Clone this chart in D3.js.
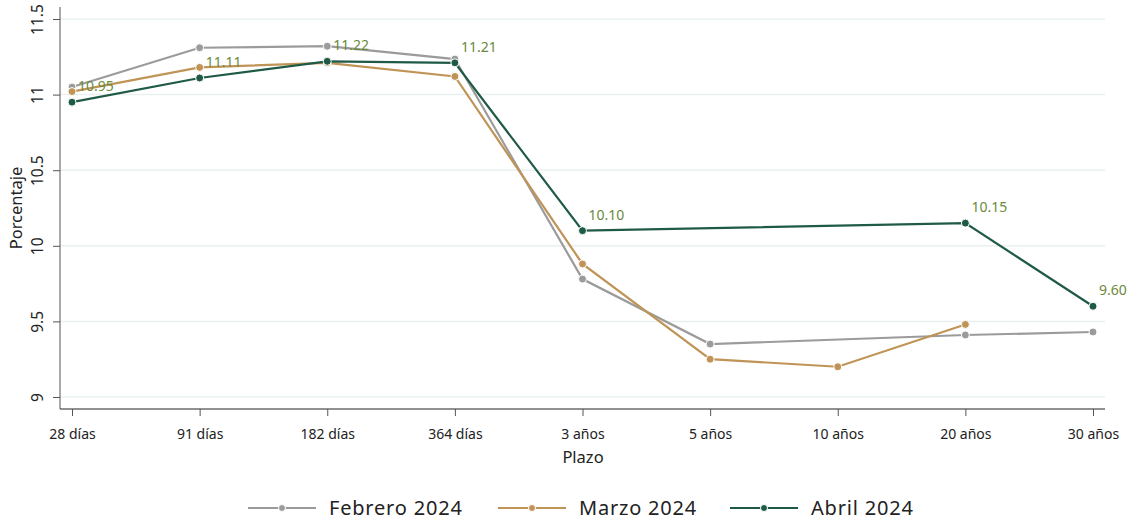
<!DOCTYPE html>
<html><head><meta charset="utf-8">
<script src="https://cdn.jsdelivr.net/npm/d3@7"></script>
<style>body{margin:0;background:#fff}svg{display:block}text{font-family:"Noto Sans",sans-serif}</style>
</head><body><svg id="c" width="1134" height="524"></svg>
<script>
const categories = ["28 días","91 días","182 días","364 días","3 años","5 años","10 años","20 años","30 años"];
const febrero = [11.05, 11.31, 11.32, 11.235, 9.78, 9.35, null, 9.41, 9.43];
const marzo   = [11.02, 11.18, 11.21, 11.12, 9.88, 9.25, 9.20, 9.48, null];
const abril   = [10.95, 11.11, 11.22, 11.21, 10.10, null, null, 10.15, 9.60];
const abrilLabels = ["10.95","11.11","11.22","11.21","10.10",null,null,"10.15","9.60"];
const yTicks = [9, 9.5, 10, 10.5, 11, 11.5];
const yTickLabels = ["9","9.5","10","10.5","11","11.5"];
const seriesNames = ["Febrero 2024","Marzo 2024","Abril 2024"];
const seriesColors = ["#9b9b9b","#c09456","#1f5a46"];

const svg = d3.select("#c");
const x = d3.scalePoint().domain(categories).range([72, 1093]);
const y = d3.scaleLinear().domain([9, 11.5]).range([397, 19]);

// grid
svg.append("g").selectAll("line").data(yTicks).join("line")
  .attr("x1", 60).attr("x2", 1105).attr("y1", d => y(d)).attr("y2", d => y(d))
  .attr("stroke", "#eaf0f0").attr("stroke-width", 1.5);

// y axis
const ya = svg.append("g").attr("transform", "translate(60,0)")
  .call(d3.axisLeft(y).tickValues(yTicks).tickFormat((d,i) => yTickLabels[i]).tickSize(7).tickSizeOuter(0));
ya.select(".domain").attr("d", "M0,7V409").attr("stroke", "#555");
ya.selectAll(".tick line").attr("stroke", "#555");
ya.selectAll(".tick text").attr("transform", "rotate(-90)").attr("x", 0).attr("y", -22)
  .attr("dy", "0.35em").attr("text-anchor", "middle").attr("font-size", 15.5).attr("fill", "#222");

// x axis
const xa = svg.append("g").attr("transform", "translate(0,409)")
  .call(d3.axisBottom(x).tickSize(7).tickSizeOuter(0));
xa.select(".domain").attr("d", "M60,0H1105").attr("stroke", "#222");
xa.selectAll(".tick line").attr("stroke", "#555");
xa.selectAll(".tick text").attr("font-size", 14).attr("fill", "#222").attr("dy", "1.45em");

// axis titles
svg.append("text").attr("transform", "translate(22,208) rotate(-90)").attr("text-anchor", "middle")
  .attr("font-size", 16.5).attr("fill", "#222").text("Porcentaje");
svg.append("text").attr("x", 583).attr("y", 463).attr("text-anchor", "middle")
  .attr("font-size", 16.5).attr("fill", "#222").text("Plazo");

const all = [febrero, marzo, abril];
all.forEach((s, k) => {
  const pts = s.map((v,i) => ({v, i})).filter(p => p.v != null);
  svg.append("path").datum(pts)
    .attr("d", d3.line().x(p => x(categories[p.i])).y(p => y(p.v)))
    .attr("fill", "none").attr("stroke", seriesColors[k]).attr("stroke-width", 2.2);
  svg.append("g").selectAll("circle").data(pts).join("circle")
    .attr("cx", p => x(categories[p.i])).attr("cy", p => y(p.v)).attr("r", 4)
    .attr("fill", seriesColors[k]).attr("stroke", "#fff").attr("stroke-width", 1);
});

// data labels for Abril
svg.append("g").selectAll("text").data(abril.map((v,i)=>({v,i,l:abrilLabels[i]})).filter(d=>d.l))
  .join("text").attr("x", d => x(categories[d.i]) + 6).attr("y", d => y(d.v) - 11)
  .attr("font-size", 14).attr("fill", "#6a8a3c").text(d => d.l);

// legend
const legX = [248, 498, 730];
seriesNames.forEach((n, k) => {
  const g = svg.append("g").attr("transform", `translate(${legX[k]},508)`);
  g.append("line").attr("x1", 0).attr("x2", 68).attr("stroke", seriesColors[k]).attr("stroke-width", 2.2);
  g.append("circle").attr("cx", 34).attr("r", 3.5).attr("fill", seriesColors[k]).attr("stroke", "#fff").attr("stroke-width", 1);
  g.append("text").attr("x", 81).attr("dy", "0.35em").attr("font-size", 20).attr("letter-spacing", 0.8)
    .attr("fill", "#222").text(n);
});
</script></body></html>
